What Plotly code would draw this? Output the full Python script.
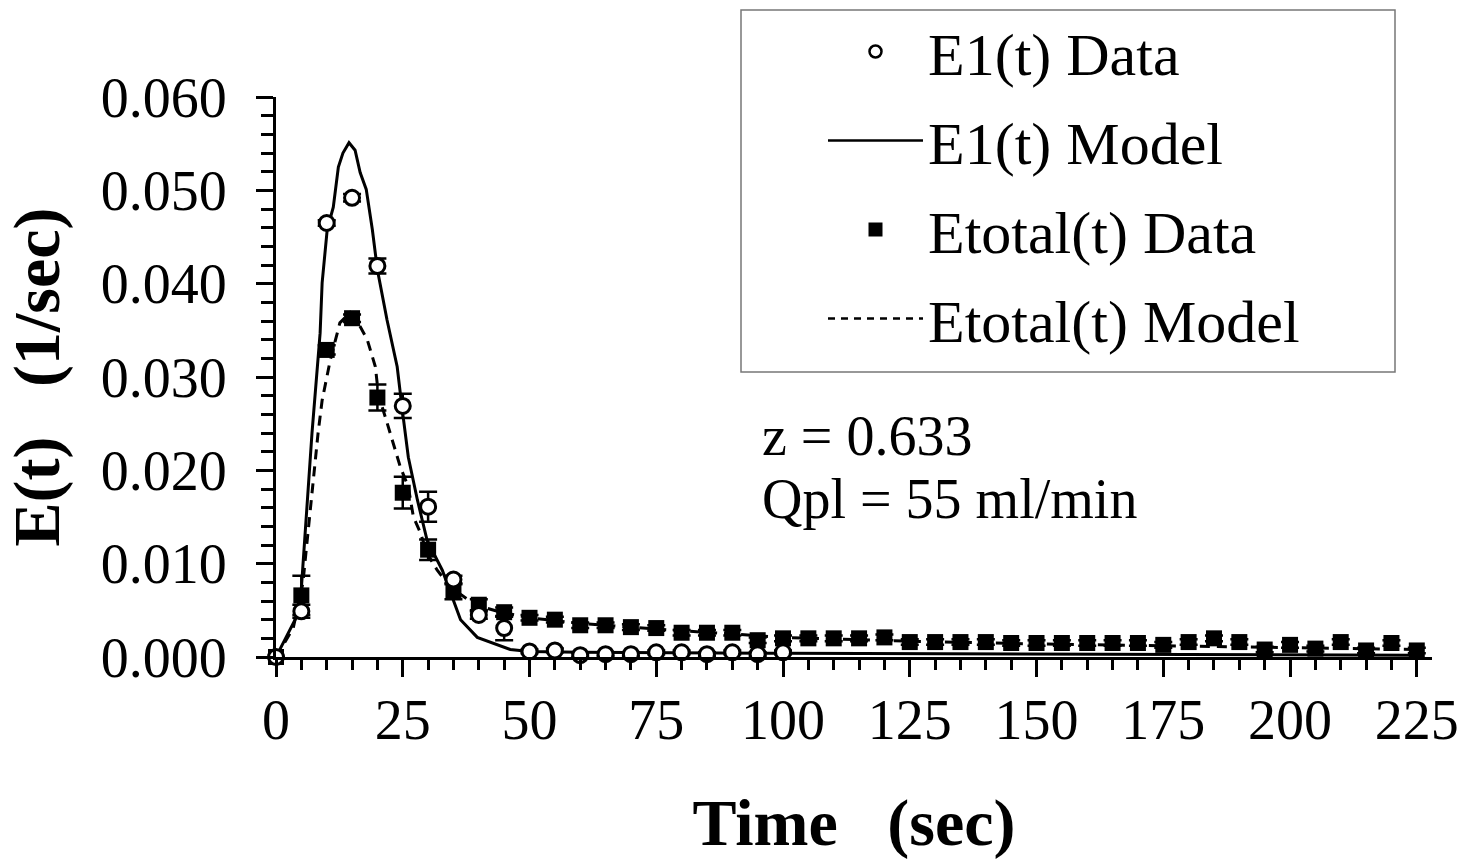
import plotly.graph_objects as go

# ---- data ----
t_e1 = [0, 5, 10, 15, 20, 25, 30, 35, 40, 45, 50, 55, 60, 65, 70, 75, 80, 85, 90, 95, 100]
e1_data = [0.0, 0.0049, 0.0465, 0.0492, 0.0419, 0.0269, 0.0161, 0.0083, 0.0045, 0.0031,
           0.0006, 0.0007, 0.0002, 0.0003, 0.0003, 0.0005, 0.0005, 0.0003, 0.0005, 0.0003, 0.0005]
e1_err = [0.0, 0.0007, 0.0003, 0.0004, 0.0008, 0.0013, 0.0016, 0.0004, 0.0004, 0.0013,
          0.0002, 0.0002, 0.0002, 0.0002, 0.0002, 0.0002, 0.0002, 0.0002, 0.0002, 0.0002, 0.0002]

t_tot = list(range(0, 230, 5))
etot_data = [0.0, 0.0066, 0.0329, 0.0363, 0.0278, 0.0176, 0.0115, 0.0070, 0.0056, 0.0048,
             0.0042, 0.0040, 0.0034, 0.0034, 0.0032, 0.0031, 0.0026, 0.0026, 0.0026, 0.0018,
             0.0020, 0.0020, 0.0020, 0.0020, 0.0021, 0.0016, 0.0016, 0.0016, 0.0016, 0.0015,
             0.0015, 0.0015, 0.0015, 0.0015, 0.0015, 0.0013, 0.0016, 0.0020, 0.0016, 0.0008,
             0.0013, 0.0009, 0.0016, 0.0007, 0.0015, 0.0007]
etot_err = [0.0, 0.0021, 0.0005, 0.0004, 0.0014, 0.0017, 0.0011, 0.0008, 0.0006, 0.0005] + [0.0003] * 36

t_m1 = [0, 4.7, 5.3, 7.1, 8.7, 9.1, 10.1, 11.3, 12.3, 13.2, 14.4, 15.6, 16.6, 17.8, 19.0, 20.0,
        21.9, 23.9, 24.9, 26.1, 27.9, 29.8, 32.8, 36.4, 39.7, 46.2, 50, 60, 100, 150, 225]
e1_model = [0.0, 0.0050, 0.0097, 0.0240, 0.0347, 0.0401, 0.0458, 0.0482, 0.0525, 0.0540, 0.0551,
            0.0543, 0.0519, 0.0501, 0.0458, 0.0415, 0.0361, 0.0311, 0.0265, 0.0214, 0.0168,
            0.0125, 0.0093, 0.0040, 0.0021, 0.0008, 0.0006, 0.0005, 0.0004, 0.0003, 0.0002]

t_mt = [0, 3.4, 5.3, 6.3, 7.3, 8.3, 9.1, 10.1, 10.7, 12.6, 14.6, 16.6, 18.0, 19.6, 20.2, 21.9,
        23.1, 24.5, 26.1, 27.1, 28.5, 29.8, 31.8, 34.4, 39.3, 44.3, 50, 60, 75, 100, 125, 150,
        175, 200, 225]
etot_model = [0.0, 0.0031, 0.0079, 0.0133, 0.0186, 0.0240, 0.0275, 0.0304, 0.0318, 0.0358,
              0.0369, 0.0354, 0.0340, 0.0311, 0.0281, 0.0251, 0.0229, 0.0204, 0.0182, 0.0150,
              0.0133, 0.0111, 0.0093, 0.0075, 0.0056, 0.0048, 0.0042, 0.0036, 0.0030, 0.0021,
              0.0017, 0.0014, 0.0012, 0.0010, 0.0008]

x_ticks = [0, 25, 50, 75, 100, 125, 150, 175, 200, 225]
y_ticks = [0.0, 0.01, 0.02, 0.03, 0.04, 0.05, 0.06]
legend_names = ["E1(t) Data", "E1(t) Model", "Etotal(t) Data", "Etotal(t) Model"]
note_lines = ["z = 0.633", "Qpl = 55 ml/min"]

# ---- layout geometry (pixels) ----
W, H = 1468, 860
L, R, T, B = 276, 36, 97, 203
pw, ph = W - L - R, H - T - B

def px(x):
    return (x - L) / pw

def py(y):
    return (H - B - y) / ph

SERIF = "Liberation Serif"
fig = go.Figure()

fig.add_trace(go.Scatter(x=t_m1, y=e1_model, mode="lines", line=dict(color="black", width=3),
                         showlegend=False, cliponaxis=False))
fig.add_trace(go.Scatter(x=t_mt, y=etot_model, mode="lines",
                         line=dict(color="black", width=3, dash="10px,7px"),
                         showlegend=False, cliponaxis=False))
fig.add_trace(go.Scatter(x=t_tot, y=etot_data, mode="markers",
                         marker=dict(symbol="square", size=16, color="black"),
                         error_y=dict(type="data", array=etot_err, color="black", thickness=2.5, width=9),
                         showlegend=False, cliponaxis=False))
fig.add_trace(go.Scatter(x=t_e1, y=e1_data, mode="markers",
                         marker=dict(symbol="circle", size=15, color="white",
                                     line=dict(color="black", width=3)),
                         error_y=dict(type="data", array=e1_err, color="black", thickness=2.5, width=9),
                         showlegend=False, cliponaxis=False))

# legend entries
fig.add_trace(go.Scatter(x=[None], y=[None], mode="markers", name=legend_names[0], legendgroup="a",
                         marker=dict(symbol="circle", size=12, color="white",
                                     line=dict(color="black", width=2.5))))
fig.add_trace(go.Scatter(x=[None], y=[None], mode="lines", name=legend_names[1], legendgroup="b",
                         line=dict(color="black", width=2.5)))
fig.add_trace(go.Scatter(x=[None], y=[None], mode="markers", name=legend_names[2], legendgroup="c",
                         marker=dict(symbol="square", size=14, color="black")))
fig.add_trace(go.Scatter(x=[None], y=[None], mode="lines", name=legend_names[3], legendgroup="d",
                         line=dict(color="black", width=2.5, dash="7px,6px")))

axis_common = dict(showline=True, linecolor="black", linewidth=3, showgrid=False, zeroline=False,
                   ticks="outside", tickcolor="black", tickwidth=3, ticklen=17, automargin=False,
                   tickfont=dict(family=SERIF, size=56, color="black"))

fig.update_xaxes(range=[0, 228], tickvals=x_ticks, ticklabelstandoff=-5,
                 minor=dict(dtick=5, ticks="outside", ticklen=10, tickwidth=3, tickcolor="black"),
                 title=dict(text="<b>Time\u00a0\u00a0\u00a0(sec)</b>", font=dict(family=SERIF, size=66, color="black"),
                            standoff=50),
                 **axis_common)
fig.update_yaxes(range=[0, 0.06], tickvals=y_ticks, tickformat=".3f", ticklabelstandoff=18,
                 minor=dict(dtick=0.002, ticks="outside", ticklen=12, tickwidth=3, tickcolor="black"),
                 title=dict(text="<b>E(t)\u00a0\u00a0\u00a0(1/sec)</b>", font=dict(family=SERIF, size=66, color="black"),
                            standoff=40),
                 **axis_common)

fig.add_shape(type="rect", xref="paper", yref="paper", x0=px(741), x1=px(1395), y0=py(372), y1=py(10),
              line=dict(color="#777", width=1.5), fillcolor="rgba(0,0,0,0)", layer="below")

fig.add_annotation(text=note_lines[0], xref="paper", yref="paper", x=px(760), y=py(436),
                   xanchor="left", yanchor="middle", showarrow=False,
                   font=dict(family=SERIF, size=56, color="black"))
fig.add_annotation(text=note_lines[1], xref="paper", yref="paper", x=px(760), y=py(499),
                   xanchor="left", yanchor="middle", showarrow=False,
                   font=dict(family=SERIF, size=56, color="black"))

fig.update_layout(
    width=W, height=H, margin=dict(l=L, r=R, t=T, b=B, autoexpand=False),
    paper_bgcolor="white", plot_bgcolor="white",
    showlegend=True,
    legend=dict(xref="container", yref="container", x=823 / W, y=1 - 6 / H,
                xanchor="left", yanchor="top", bgcolor="rgba(0,0,0,0)",
                borderwidth=0, font=dict(family=SERIF, size=60, color="black"),
                itemwidth=95, tracegroupgap=8, traceorder="grouped"),
)

fig.write_html("out.html")
